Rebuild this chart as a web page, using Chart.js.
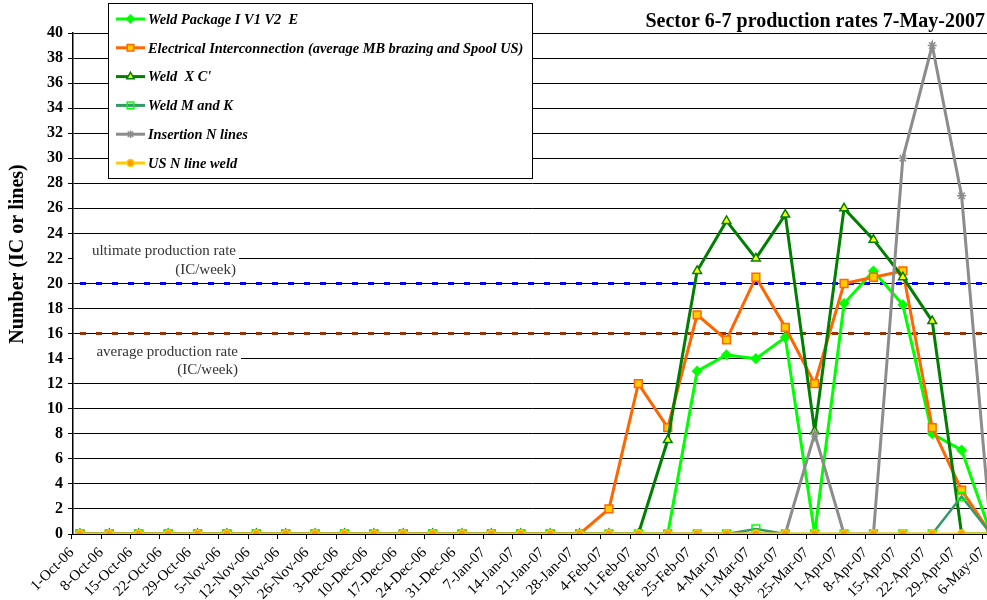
<!DOCTYPE html>
<html>
<head>
<meta charset="utf-8">
<script src="https://cdn.jsdelivr.net/npm/chart.js@4.4.1/dist/chart.umd.min.js"></script>
<style>
  html, body { margin: 0; padding: 0; background: #fff; overflow: hidden; }
  canvas { display: block; }
</style>
</head>
<body>
<canvas id="chart" width="1010" height="600"></canvas>
<script>
// weekly categories
const weeks = ['1-Oct-06', '8-Oct-06', '15-Oct-06', '22-Oct-06', '29-Oct-06', '5-Nov-06', '12-Nov-06',
  '19-Nov-06', '26-Nov-06', '3-Dec-06', '10-Dec-06', '17-Dec-06', '24-Dec-06', '31-Dec-06',
  '7-Jan-07', '14-Jan-07', '21-Jan-07', '28-Jan-07', '4-Feb-07', '11-Feb-07', '18-Feb-07',
  '25-Feb-07', '4-Mar-07', '11-Mar-07', '18-Mar-07', '25-Mar-07', '1-Apr-07', '8-Apr-07',
  '15-Apr-07', '22-Apr-07', '29-Apr-07', '6-May-07'];

const weldPackage = [0, 0, 0, 0, 0, 0, 0, 0, 0, 0, 0, 0, 0, 0, 0, 0, 0, 0, 0, 0, 0,
  13, 14.3, 14, 15.7, 0, 18.4, 21, 18.3, 8, 6.7, 0];
const electrical = [0, 0, 0, 0, 0, 0, 0, 0, 0, 0, 0, 0, 0, 0, 0, 0, 0, 0,
  2, 12, 8.5, 17.5, 15.5, 20.5, 16.5, 12, 20, 20.5, 21, 8.5, 3.5, 0];
const weldXC = [0, 0, 0, 0, 0, 0, 0, 0, 0, 0, 0, 0, 0, 0, 0, 0, 0, 0, 0, 0,
  7.5, 21, 25, 22, 25.5, 8.2, 26, 23.5, 20.5, 17, 0, 0];
const weldMK = [0, 0, 0, 0, 0, 0, 0, 0, 0, 0, 0, 0, 0, 0, 0, 0, 0, 0, 0, 0, 0, 0, 0,
  0.4, 0, 0, 0, 0, 0, 0, 3, 0];
const insertion = [0, 0, 0, 0, 0, 0, 0, 0, 0, 0, 0, 0, 0, 0, 0, 0, 0, 0, 0, 0, 0, 0, 0, 0, 0,
  8, 0, 0, 30, 39, 27, 0];
const usNLine = [0, 0, 0, 0, 0, 0, 0, 0, 0, 0, 0, 0, 0, 0, 0, 0, 0, 0, 0, 0, 0, 0, 0, 0, 0,
  0, 0, 0, 0, 0, 0, 0];

const yTicks = [0, 40, 2];           // min, max, step
const ultimateRate = 20;
const averageRate = 16;
const chartTitle = 'Sector 6-7 production rates 7-May-2007';
const yTitle = 'Number (IC or lines)';

function pts(arr) {
  return arr.map((v, i) => ({ x: i, y: v }));
}

function series(label, arr, line, style, fill, edge, r, order, bw) {
  return {
    label: label,
    data: pts(arr),
    borderColor: line,
    borderWidth: bw || 3,
    pointStyle: style,
    pointRadius: r,
    pointBackgroundColor: fill,
    pointBorderColor: edge,
    pointBorderWidth: 1.5,
    tension: 0,
    order: order
  };
}

const datasets = [
  series('Weld Package I V1 V2  E', weldPackage, '#00ff00', 'rectRot', '#00ff00', '#00ff00', 4.5, 5),
  series('Electrical Interconnection (average MB brazing and Spool US)', electrical, '#ff6600', 'rect', '#ffcc00', '#ff6600', 5.5, 4),
  series("Weld  X C'", weldXC, '#008000', 'triangle', '#ffff00', '#008000', 5, 3),
  series('Weld M and K', weldMK, '#339966', 'rect', 'rgba(0,0,0,0)', '#00ff00', 5.5, 2, 2.5),
  series('Insertion N lines', insertion, '#8c8c8c', 'star', '#8c8c8c', '#8c8c8c', 4.5, 1),
  series('US N line weld', usNLine, '#ffcc00', 'circle', '#ff9900', '#ffcc00', 4, 0)
];

const serif = '"Liberation Serif", "Times New Roman", serif';

const decor = {
  id: 'decor',
  beforeDatasetsDraw(chart) {
    const { ctx, chartArea: a, scales: { y } } = chart;
    ctx.save();
    // label boxes for the two reference rates
    ctx.fillStyle = '#fff';
    ctx.fillRect(a.left + 1, y.getPixelForValue(23.5), 165, y.getPixelForValue(20.4) - y.getPixelForValue(23.5));
    ctx.fillRect(a.left + 1, y.getPixelForValue(15.4), 167, y.getPixelForValue(12.3) - y.getPixelForValue(15.4));
    ctx.fillStyle = '#333';
    ctx.font = '15px ' + serif;
    ctx.textAlign = 'right';
    ctx.textBaseline = 'middle';
    ctx.fillText('ultimate production rate', 236, y.getPixelForValue(22.55));
    ctx.fillText('(IC/week)', 236, y.getPixelForValue(21.1));
    ctx.fillText('average production rate', 238, y.getPixelForValue(14.5));
    ctx.fillText('(IC/week)', 238, y.getPixelForValue(13.05));

    // dashed reference lines
    ctx.lineWidth = 3;
    ctx.setLineDash([6, 10]);
    [[ultimateRate, '#0000ff'], [averageRate, '#993300']].forEach(([v, c]) => {
      const py = y.getPixelForValue(v);
      ctx.strokeStyle = c;
      ctx.beginPath();
      ctx.moveTo(a.left + 7, py);
      ctx.lineTo(a.right, py);
      ctx.stroke();
    });
    ctx.restore();
  },
  afterDraw(chart) {
    const { ctx } = chart;
    ctx.save();
    // title
    ctx.fillStyle = '#000';
    ctx.font = 'bold 20px ' + serif;
    ctx.textAlign = 'right';
    ctx.textBaseline = 'alphabetic';
    ctx.fillText(chartTitle, 985, 27);

    // y axis title
    ctx.save();
    ctx.translate(18, 254);
    ctx.rotate(-Math.PI / 2);
    ctx.textAlign = 'center';
    ctx.textBaseline = 'middle';
    ctx.font = 'bold 20px ' + serif;
    ctx.fillText(yTitle, 0, 0);
    ctx.restore();

    // legend box
    ctx.fillStyle = '#fff';
    ctx.fillRect(108.5, 3.5, 424, 175);
    ctx.strokeStyle = '#000';
    ctx.lineWidth = 1;
    ctx.strokeRect(108.5, 3.5, 424, 175);
    chart.data.datasets.forEach((ds, i) => {
      const ly = 19 + i * 28.8;
      ctx.strokeStyle = ds.borderColor;
      ctx.lineWidth = 3;
      ctx.beginPath();
      ctx.moveTo(116, ly);
      ctx.lineTo(145, ly);
      ctx.stroke();
      ctx.fillStyle = ds.pointBackgroundColor;
      ctx.strokeStyle = ds.pointBorderColor;
      ctx.lineWidth = 1.5;
      Chart.helpers.drawPoint(ctx, { pointStyle: ds.pointStyle, radius: ds.pointRadius * 0.85, rotation: 0, borderWidth: 1.5 }, 130.5, ly);
      ctx.fillStyle = '#000';
      ctx.font = 'italic bold 14.4px ' + serif;
      ctx.textAlign = 'left';
      ctx.textBaseline = 'middle';
      ctx.fillText(ds.label, 148, ly + 1);
    });
    ctx.restore();
  }
};

new Chart(document.getElementById('chart'), {
  type: 'line',
  data: { datasets: datasets },
  options: {
    responsive: false,
    animation: false,
    events: [],
    layout: { padding: { top: 33, right: 19, bottom: 0, left: 0 } },
    plugins: { legend: { display: false }, tooltip: { enabled: false }, title: { display: false } },
    scales: {
      x: {
        type: 'linear',
        min: -0.238,
        max: weeks.length - 1,
        afterFit: s => { s.height = 66; },
        // tick marks sit a little before each week's point, as in the original
        afterBuildTicks: s => { s.ticks = weeks.map((w, i) => ({ value: i - 0.28 })); },
        grid: { drawOnChartArea: false, drawTicks: true, tickLength: 5, color: '#000' },
        border: { display: true, color: '#000', width: 1 },
        ticks: {
          autoSkip: false,
          minRotation: 45,
          maxRotation: 45,
          padding: 5,
          color: '#000',
          font: { family: serif, size: 15 },
          callback: (v, i) => weeks[i]
        }
      },
      y: {
        min: yTicks[0],
        max: yTicks[1],
        afterFit: s => { s.width = 73; },
        grid: { color: '#000', lineWidth: 1, tickLength: 5 },
        border: { display: true, color: '#000', width: 1.5 },
        ticks: {
          stepSize: yTicks[2],
          padding: 5,
          color: '#000',
          font: { family: serif, size: 16, weight: 'bold' }
        }
      }
    }
  },
  plugins: [decor]
});
</script>
</body>
</html>
